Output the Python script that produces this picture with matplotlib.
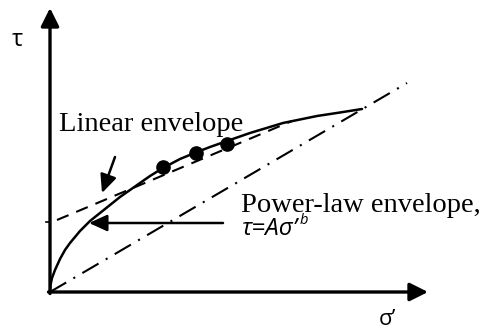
"""
Mohr-Coulomb style sketch: linear vs power-law failure envelope
"""

import matplotlib.pyplot as plt

plt.rcParams['font.family'] = ['Liberation Serif', 'DejaVu Serif']

# Power-law envelope (sigma', tau)
curve_sigma = [0.0, 0.05, 0.2, 0.5, 1.0, 1.5, 2.0, 3.0, 4.0, 5.0, 6.0, 7.0,
               8.0, 9.0, 10.0, 11.3, 13.0, 14.7, 16.0, 17.7, 20.0, 23.3,
               26.7, 29.0, 31.2]
curve_tau = [0.0, 0.7, 1.4, 2.2, 3.3, 4.2, 4.9, 6.1, 7.1, 7.9, 8.7, 9.5,
             10.2, 10.9, 11.6, 12.4, 13.3, 14.0, 14.5, 15.1, 15.9, 16.9,
             17.6, 17.95, 18.3]

# test points
pts_sigma = [11.3, 14.6, 17.7]
pts_tau = [12.5, 13.9, 14.8]

# linear envelope (dashed)
lin_sigma = [0.7, 24.2]
lin_tau = [7.2, 17.1]

# dash-dot line through origin
dd_sigma = [0.0, 35.7]
dd_tau = [0.0, 20.9]

# axes extents
x_axis_end = 37.8
y_axis_end = 28.4

SANS = ['Open Sans', 'DejaVu Sans']

fig = plt.figure(figsize=(4.9, 3.3), dpi=100)
ax = fig.add_axes([0, 0, 1, 1])
ax.set_xlim(-5.0, 44.0)
ax.set_ylim(-3.8, 29.2)
ax.axis('off')

# axes with arrow heads
axis_style = dict(arrowstyle='-|>,head_length=1.1,head_width=0.55',
                  lw=2.4, color='black', shrinkA=0, shrinkB=0,
                  mutation_scale=10)
ax.annotate('', xy=(0, y_axis_end), xytext=(0, -0.15), arrowprops=axis_style)
ax.annotate('', xy=(x_axis_end, 0), xytext=(-0.15, 0), arrowprops=axis_style)
ax.plot([-0.4, 0], [7.0, 7.0], color='black', lw=1.2)

# envelopes
ax.plot(dd_sigma, dd_tau, color='black', lw=1.5, dashes=(9, 4, 1, 4))
ax.plot(lin_sigma, lin_tau, color='black', lw=1.5, dashes=(6, 4))
ax.plot(curve_sigma, curve_tau, color='black', lw=1.8,
        solid_joinstyle='round', solid_capstyle='round')
ax.plot(pts_sigma, pts_tau, 'o', color='black', ms=9.5)

# pointer arrows
ptr_style = dict(arrowstyle='-|>,head_length=1.1,head_width=0.5',
                 lw=1.8, color='black', shrinkA=0, shrinkB=0,
                 mutation_scale=10)
ax.annotate('', xy=(5.2, 9.9), xytext=(6.5, 13.5), arrowprops=ptr_style)
ax.annotate('', xy=(3.9, 6.9), xytext=(17.3, 6.9), arrowprops=ptr_style)

# labels
ax.text(0.9, 16.1, 'Linear envelope', fontsize=20.5, ha='left', va='baseline')
ax.text(19.1, 8.0, 'Power-law envelope,', fontsize=20.5, ha='left', va='baseline')
eq = ax.text(19.1, 5.7, 'τ=Aσ’', fontsize=17.5, style='italic', family=SANS,
             ha='left', va='baseline')
ax.annotate('b', xy=(1.0, 1.0), xycoords=eq, xytext=(1.5, 3),
            textcoords='offset points', fontsize=10.5, style='italic',
            family=SANS, ha='left', va='top')

ax.text(-3.3, 25.2, 'τ', fontsize=17, family=SANS, ha='center', va='center')
ax.text(33.7, -3.3, 'σ’', fontsize=16, family=SANS, ha='center', va='baseline')

plt.savefig('out.png', dpi=100, facecolor='white')
plt.close()
